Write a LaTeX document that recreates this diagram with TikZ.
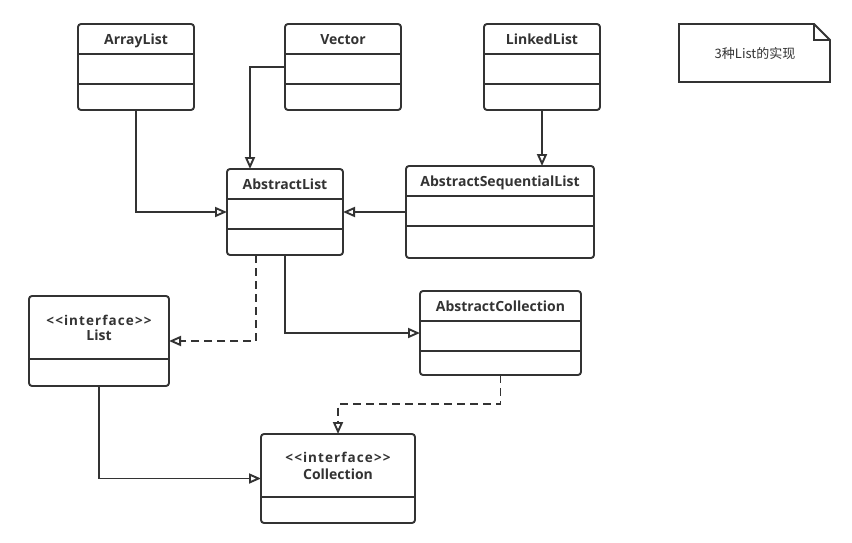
\documentclass[tikz,border=0pt]{standalone}
\usepackage{fontspec}
\setmainfont{Open Sans}
\newfontfamily\cjkfont{Noto Sans CJK SC}
\usetikzlibrary{arrows.meta}
\definecolor{umlgray}{HTML}{333333}

\begin{document}
\begin{tikzpicture}[x=1pt, y=-1pt,
    classbox/.style={draw=umlgray, line width=1.9pt, rounded corners=3pt, inner sep=0pt, outer sep=0pt},
    divider/.style={draw=umlgray, line width=1.9pt},
    classname/.style={anchor=base, text=umlgray, font=\bfseries\fontsize{14}{16}\selectfont},
    stereotype/.style={classname, font=\bfseries\fontsize{13.5}{16}\selectfont\addfontfeature{LetterSpace=8}},
    inherit/.style={draw=umlgray, line width=1.9pt, -{Triangle[open, length=12pt, width=10pt]}},
    realize/.style={inherit, dash pattern=on 8pt off 5pt}]
    \fill[white] (0,0) rectangle (852,543);
    \useasboundingbox (0,0) rectangle (852,543);

    \node[classbox, minimum width=116pt, minimum height=86pt] (ArrayList) at (136,67) {};
    \node[classbox, minimum width=116pt, minimum height=86pt] (Vector) at (343,67) {};
    \node[classbox, minimum width=116pt, minimum height=86pt] (LinkedList) at (542,67) {};
    \node[classbox, minimum width=116pt, minimum height=86pt] (AbstractList) at (285,212) {};
    \node[classbox, minimum width=188pt, minimum height=92pt] (AbstractSequentialList) at (500,212) {};
    \node[classbox, minimum width=140pt, minimum height=90pt] (List) at (99,341) {};
    \node[classbox, minimum width=161pt, minimum height=84pt] (AbstractCollection) at (500.5,333) {};
    \node[classbox, minimum width=154pt, minimum height=89pt] (Collection) at (338,478.5) {};

    \draw[divider] (78,54) -- (194,54);
    \draw[divider] (78,84) -- (194,84);
    \draw[divider] (285,54) -- (401,54);
    \draw[divider] (285,84) -- (401,84);
    \draw[divider] (484,54) -- (600,54);
    \draw[divider] (484,84) -- (600,84);
    \draw[divider] (227,199) -- (343,199);
    \draw[divider] (227,229) -- (343,229);
    \draw[divider] (406,196) -- (594,196);
    \draw[divider] (406,226) -- (594,226);
    \draw[divider] (29,359) -- (169,359);
    \draw[divider] (420,321) -- (581,321);
    \draw[divider] (420,351) -- (581,351);
    \draw[divider] (261,497) -- (415,497);

    \node[classname] (ArrayList-name) at (136,44.5) {ArrayList};
    \node[classname] (Vector-name) at (343,44.5) {Vector};
    \node[classname] (LinkedList-name) at (542,44.5) {LinkedList};
    \node[classname] (AbstractList-name) at (285,189.5) {AbstractList};
    \node[classname] (AbstractSequentialList-name) at (500,186.5) {AbstractSequentialList};
    \node[classname] (AbstractCollection-name) at (500.5,311.5) {AbstractCollection};
    \node[stereotype] (List-stereo) at (99,325) {<{}<interface>{}>};
    \node[classname] (List-name) at (99,340.7) {List};
    \node[stereotype] (Collection-stereo) at (338,462.7) {<{}<interface>{}>};
    \node[classname] (Collection-name) at (338,479.3) {Collection};

    \draw[divider, line join=miter] (679,24) -- (814,24) -- (830,40) -- (830,82) -- (679,82) -- cycle;
    \draw[divider] (814,24) -- (814,40) -- (830,40);
    \node[text=umlgray, font=\cjkfont\fontsize{13}{15}\selectfont] (note) at (755,53.5) {3种List的实现};

    \coordinate (AbstractCollection-elbow) at (500.5,404);
    \draw[inherit] (ArrayList.south) |- (AbstractList.west);
    \draw[inherit] (Vector.west) -| ([xshift=-35pt]AbstractList.north);
    \draw[inherit] (LinkedList.south) -- (LinkedList.south |- AbstractSequentialList.north);
    \draw[inherit] (AbstractSequentialList.west) -- (AbstractList.east);
    \draw[realize] ([xshift=-29pt]AbstractList.south) |- (List.east);
    \draw[inherit] (AbstractList.south) |- (AbstractCollection.west);
    \draw[realize] (AbstractCollection.south) -- (AbstractCollection-elbow) -| (Collection.north);
    \draw[inherit] (List.south) |- (Collection.west);
\end{tikzpicture}
\end{document}
